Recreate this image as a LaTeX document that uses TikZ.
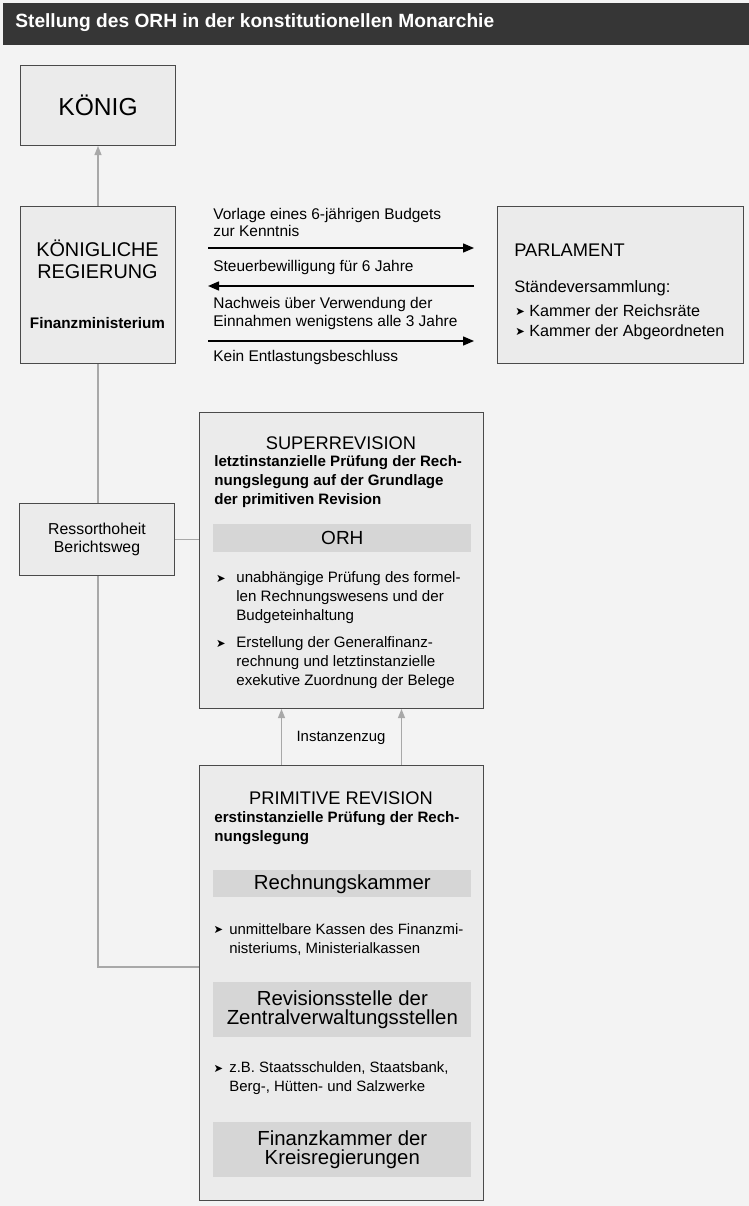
\documentclass[tikz,border=0pt]{standalone}
\usepackage{fontspec}
\setmainfont{Liberation Sans}
\newfontfamily\bulfont{DejaVu Sans}
\usetikzlibrary{arrows.meta,positioning,calc,backgrounds}
\definecolor{pagegray}{HTML}{F3F3F3}
\definecolor{boxgray}{HTML}{EBEBEB}
\definecolor{bandgray}{HTML}{D6D6D6}
\definecolor{linegray}{HTML}{A8A8A8}
\definecolor{framegray}{HTML}{4A4A4A}
\definecolor{titlebar}{HTML}{363636}
\newcommand{\fs}[2]{\fontsize{#1}{#2}\selectfont}
\newcommand{\bul}{\raisebox{0.4pt}{\bulfont\fontsize{6.5}{7}\selectfont ➤}}
\tikzset{
  panel/.style={draw=framegray,fill=boxgray,line width=0.6pt,anchor=north west,inner sep=0pt},
  band/.style={fill=bandgray,anchor=north west,inner sep=0pt,align=center},
  flow/.style={line width=0.8pt,-{Triangle[length=2.2mm,width=1.8mm]}},
  greyline/.style={draw=linegray,line width=0.6pt},
  greyarrow/.style={greyline,-{Triangle[length=1.8mm,width=1.4mm,fill=linegray]}},
  txt/.style={inner sep=0pt,align=left}
}

\begin{document}
\begin{tikzpicture}[x=0.02cm,y=-0.02cm]
  \useasboundingbox (0,0) rectangle (749,1206);

  % Title bar
  \fill[titlebar] (3,3) rectangle (749,45);
  \node[txt,anchor=west,text=white,font=\bfseries\fs{10.9}{12}] (title) at (15,23)
    {Stellung des ORH in der konstitutionellen Monarchie};

  % King and government
  \node[panel,minimum width=3.1cm,minimum height=1.6cm,font=\fs{14}{16}] (koenig) at (20,65) {K\"ONIG};
  \node[panel,minimum width=3.1cm,minimum height=3.14cm] (regierung) at (20,206) {};
  \node[txt,align=center,font=\fs{11.3}{12.5}] (regname) at (97.5,259.5) {K\"ONIGLICHE\\REGIERUNG};
  \node[txt,font=\bfseries\fs{8.7}{10}] (finmin) at (97.5,323) {Finanzministerium};

  % Parliament
  \node[panel,minimum width=4.92cm,minimum height=3.14cm] (parlament) at (497,206) {};
  \node[txt,anchor=west,font=\fs{10.4}{12}] (parlname) at (514,250) {PARLAMENT};
  \node[txt,anchor=west,font=\fs{9.4}{11}] (staende) at (514,288) {Ständeversammlung:};
  \node[txt,anchor=west,font=\fs{9.2}{11.3}] (kammern) at (529,322)
    {\llap{\bul\kern2.5pt}Kammer der Reichsräte\\\llap{\bul\kern2.5pt}Kammer der Abgeordneten};

  % Budget relations
  \coordinate (r1) at (0,248);
  \coordinate (r2) at (0,286);
  \coordinate (r3) at (0,341);
  \node[txt,anchor=west,font=\fs{8.8}{10.2}] (vorlage) at (213,222.5) {Vorlage eines 6-jährigen Budgets\\zur Kenntnis};
  \node[txt,anchor=west,font=\fs{8.8}{10.2}] (steuer) at (213,268) {Steuerbewilligung für 6 Jahre};
  \node[txt,anchor=west,font=\fs{8.8}{10.2}] (nachweis) at (213,313.5) {Nachweis über Verwendung der\\Einnahmen wenigstens alle 3 Jahre};
  \node[txt,anchor=west,font=\fs{8.8}{10.2}] (kein) at (213,358) {Kein Entlastungsbeschluss};
  \draw[flow,shorten <=0.64cm,shorten >=0.46cm] (regierung.east |- r1) -- (parlament.west |- r1);
  \draw[flow,shorten <=0.46cm,shorten >=0.64cm] (parlament.west |- r2) -- (regierung.east |- r2);
  \draw[flow,shorten <=0.64cm,shorten >=0.46cm] (regierung.east |- r3) -- (parlament.west |- r3);

  % Ressort
  \node[panel,minimum width=3.1cm,minimum height=1.44cm,align=center,font=\fs{9}{10.2}] (ressort) at (19,503)
    {Ressorthoheit\\Berichtsweg};

  % Superrevision
  \node[panel,minimum width=5.68cm,minimum height=5.92cm] (superrev) at (199,412) {};
  \node[txt,font=\fs{10.4}{12}] (supname) at (341,443) {SUPERREVISION};
  \node[txt,anchor=west,font=\bfseries\fs{8.6}{10.8}] (supsub) at (214,482)
    {letztinstanzielle Prüfung der Rech-\\nungslegung auf der Grundlage\\der primitiven Revision};
  \node[band,minimum width=5.16cm,minimum height=0.56cm,font=\fs{10.8}{12}] (orh) at (213,524) {ORH};
  \node[txt,anchor=west,font=\fs{8.6}{10.8}] (orhone) at (236,598)
    {\llap{\bul\kern6pt}unabhängige Prüfung des formel-\\len Rechnungswesens und der\\Budgeteinhaltung};
  \node[txt,anchor=west,font=\fs{8.6}{10.8}] (orhtwo) at (236,663)
    {\llap{\bul\kern6pt}Erstellung der Generalfinanz-\\rechnung und letztinstanzielle\\exekutive Zuordnung der Belege};

  % Primitive revision
  \node[panel,minimum width=5.68cm,minimum height=8.7cm] (primrev) at (199,765) {};
  \node[txt,font=\fs{10.4}{12}] (primname) at (341,798) {PRIMITIVE REVISION};
  \node[txt,anchor=west,font=\bfseries\fs{8.6}{10.8}] (primsub) at (214,828.5)
    {erstinstanzielle Prüfung der Rech-\\nungslegung};
  \node[band,minimum width=5.16cm,minimum height=0.54cm,font=\fs{11.6}{12}] (rechkammer) at (213,870) {Rechnungskammer};
  \node[txt,anchor=west,font=\fs{8.5}{10.8}] (kassen) at (229,939.5)
    {\llap{\bul\kern3.5pt}unmittelbare Kassen des Finanzmi-\\nisteriums, Ministerialkassen};
  \node[band,minimum width=5.16cm,minimum height=1.1cm,font=\fs{11.6}{11}] (revstelle) at (213,982)
    {Revisionsstelle der\\Zentralverwaltungsstellen};
  \node[txt,anchor=west,font=\fs{8.5}{10.8}] (werke) at (229,1078.5)
    {\llap{\bul\kern3.5pt}z.B. Staatsschulden, Staatsbank,\\Berg-, Hütten- und Salzwerke};
  \node[band,minimum width=5.16cm,minimum height=1.1cm,font=\fs{11.6}{11}] (finkammer) at (213,1122)
    {Finanzkammer der\\Kreisregierungen};
  \node[txt,font=\fs{8.5}{10}] (instanz) at (341,738) {Instanzenzug};

  % Grey connectors
  \coordinate (join) at (199,967);
  \begin{scope}[on background layer]
    \fill[pagegray] (0,0) rectangle (749,1206);
    \draw[greyarrow] (regierung.north) -- (koenig.south);
    \draw[greyline] (regierung.south) |- (join);
    \draw[greyline] (ressort.east) -- (ressort.east -| superrev.west);
    \draw[greyarrow] ($(primrev.north)+(-60,0)$) -- ($(superrev.south)+(-60,0)$);
    \draw[greyarrow] ($(primrev.north)+(60,0)$) -- ($(superrev.south)+(60,0)$);
  \end{scope}
\end{tikzpicture}
\end{document}
